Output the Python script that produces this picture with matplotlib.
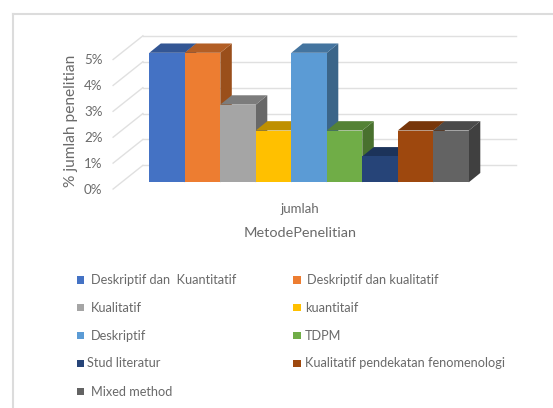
#!/usr/bin/env python3

import matplotlib
matplotlib.use("Agg")
import matplotlib.pyplot as plt
from matplotlib.patches import Polygon, Rectangle

plt.rcParams["font.family"] = ["Lato", "DejaVu Sans"]

categories = [
    "Deskriptif dan  Kuantitatif",
    "Deskriptif dan kualitatif",
    "Kualitatif",
    "kuantitaif",
    "Deskriptif",
    "TDPM",
    "Stud literatur",
    "Kualitatif pendekatan fenomenologi",
    "Mixed method",
]
values = [5, 5, 3, 2, 5, 2, 1, 2, 2]
y_ticks = [0, 1, 2, 3, 4, 5]
y_tick_labels = ["0%", "1%", "2%", "3%", "4%", "5%"]
x_label = "jumlah"
x_title = "MetodePenelitian"
y_title = "% jumlah penelitian"

front_colors = ["#4472C4", "#ED7D31", "#A5A5A5", "#FFC000", "#5B9BD5",
                "#70AD47", "#264478", "#9E480E", "#636363"]
top_colors = ["#335694", "#B25E25", "#7C7C7C", "#BF9000", "#44749F",
              "#548235", "#1C335A", "#77360A", "#4A4A4A"]
side_colors = ["#2A4778", "#9A4F1B", "#686868", "#A67D00", "#3B6589",
               "#49712E", "#182C4E", "#672F09", "#404040"]

text_grey = "#6a6a6a"
grid_grey = "#E0E0E0"

W, H = 553, 408
BAR_PX = 35.5
UNIT_PX = 25.9
X0_PX = 149.3
Y0_PX = 182.3


def px_x(p):
    return (p - X0_PX) / BAR_PX


def px_y(p):
    return (Y0_PX - p) / UNIT_PX


def draw_grid(ax):
    for t, lab in zip(y_ticks, y_tick_labels):
        ax.plot([-1.02, -0.18], [t - 0.26, t + 0.656], color=grid_grey, lw=1, zorder=1)
        ax.plot([-0.18, 10.32], [t + 0.656, t + 0.656], color=grid_grey, lw=1, zorder=1)
        ax.text(px_x(102.5), t - 0.28, lab, color=text_grey, fontsize=9.6, ha="right", va="center")


def draw_bars(ax):
    dx, dy = 0.324, 0.36
    for i, v in enumerate(values):
        # back bars first so the next one covers the side face
        ax.add_patch(Polygon([(i + 1, 0), (i + 1 + dx, dy), (i + 1 + dx, v + dy), (i + 1, v)],
                             fc=side_colors[i], ec="none", zorder=2 + i))
        ax.add_patch(Polygon([(i, v), (i + dx, v + dy), (i + 1 + dx, v + dy), (i + 1, v)],
                             fc=top_colors[i], ec="none", zorder=2 + i))
        ax.bar(i + 0.5, v, width=1, color=front_colors[i], zorder=2 + i)


def draw_legend(ax):
    rows = [280, 307.7, 335.7, 363.3, 391.7]
    col_swatch = [80.3, 297]
    col_text = [[90.7, 307.3], [90.7, 304.7], [90.7, 304.7], [87.3, 304.7], [90.7, 0]]
    for i, name in enumerate(categories):
        r, c = divmod(i, 2)
        x = col_swatch[c]
        ax.add_patch(Rectangle((px_x(x - 3.7), px_y(rows[r] + 3.7)), 7.4 / BAR_PX, 7.4 / UNIT_PX,
                               fc=front_colors[i], ec="none"))
        ax.text(px_x(col_text[r][c]), px_y(rows[r]), name, color=text_grey, fontsize=9.2,
                ha="left", va="center")


def main():
    fig = plt.figure(figsize=(W / 100, H / 100), dpi=100)
    ax = fig.add_axes([0, 0, 1, 1])
    ax.set_xlim(px_x(0), px_x(W))
    ax.set_ylim(px_y(H), px_y(0))
    ax.axis("off")

    # chart frame, only top and left show in the picture
    ax.plot([px_x(13.5), px_x(13.5)], [px_y(H), px_y(14)], color="#DCDCDC", lw=1.5, zorder=0)
    ax.plot([px_x(13.5), px_x(W)], [px_y(14), px_y(14)], color="#DCDCDC", lw=1.5, zorder=0)
    draw_grid(ax)
    draw_bars(ax)

    ax.text(px_x(300), px_y(209), x_label, color=text_grey, fontsize=9.5, ha="center", va="center")
    ax.text(px_x(300.5), px_y(233), x_title, color=text_grey, fontsize=10.4, ha="center", va="center")
    ax.text(px_x(71), px_y(121), y_title, color=text_grey, fontsize=11.2, rotation=90,
            ha="center", va="center")
    draw_legend(ax)

    fig.savefig("out.png", dpi=100)


if __name__ == "__main__":
    main()
